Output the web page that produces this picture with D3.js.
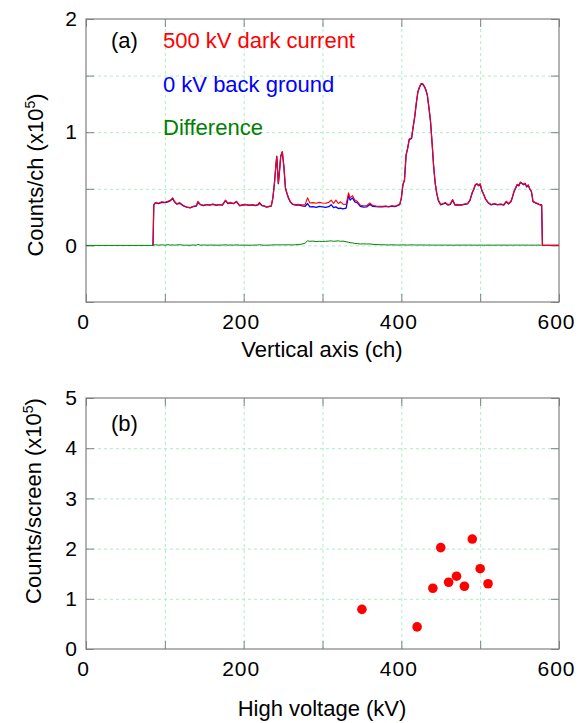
<!DOCTYPE html>
<html>
<head>
<meta charset="utf-8">
<script src="https://cdn.jsdelivr.net/npm/d3@7"></script>
<style>
  body { margin: 0; background: #fff; }
  svg { display: block; font-family: "Liberation Sans", Arial, sans-serif; }
  .tick line { stroke: #808080; }
  .grid line { stroke: #a8f0c4; stroke-dasharray: 3,3; }
  .num text { font-size: 21px; letter-spacing: 1px; fill: #000; }
</style>
</head>
<body>
<div id="chart"></div>
<script>

// (a) spectrum, counts per channel in units of 1e5
var channels = [
  0, 85, 86, 88, 92, 96, 100, 104, 107, 110,
  112, 115, 119, 122, 125, 128, 132, 136, 140, 142,
  145, 149, 153, 157, 161, 165, 169, 173, 177, 180,
  183, 187, 191, 195, 199, 203, 207, 211, 215, 218,
  220, 223, 226, 229, 232, 235, 237, 239, 241, 242,
  244, 245, 247, 249, 251, 253, 255, 257, 259, 262,
  266, 270, 274, 278, 281, 284, 288, 292, 296, 300,
  304, 308, 311, 314, 317, 320, 323, 326, 330, 333,
  335, 338, 341, 344, 348, 352, 356, 360, 364, 368,
  372, 376, 380, 384, 388, 392, 395, 398, 400, 402,
  404, 406, 408, 410, 413, 415, 417, 419, 421, 423,
  425, 427, 429, 431, 433, 435, 437, 439, 441, 443,
  445, 447, 450, 453, 456, 459, 462, 465, 468, 472,
  476, 480, 484, 487, 490, 492, 494, 496, 498, 500,
  502, 504, 507, 510, 514, 518, 522, 526, 530, 533,
  536, 539, 541, 543, 545, 547, 549, 551, 553, 555,
  557, 559, 561, 563, 565, 567, 570, 573, 576, 578,
  579, 600
];

var darkCounts = [
  null, 0, 0.360, 0.378, 0.372, 0.385, 0.380, 0.390, 0.398, 0.420,
  0.390, 0.368, 0.378, 0.360, 0.347, 0.340, 0.333, 0.345, 0.350, 0.390,
  0.362, 0.355, 0.362, 0.358, 0.365, 0.356, 0.362, 0.358, 0.400, 0.372,
  0.380, 0.370, 0.390, 0.352, 0.360, 0.362, 0.356, 0.360, 0.355, 0.360,
  0.380, 0.355, 0.350, 0.340, 0.345, 0.350, 0.420, 0.550, 0.720, 0.790,
  0.550, 0.620, 0.790, 0.830, 0.700, 0.510, 0.460, 0.420, 0.390, 0.365,
  0.360, 0.362, 0.358, 0.360, 0.420, 0.375, 0.378, 0.372, 0.380, 0.375,
  0.372, 0.380, 0.400, 0.370, 0.400, 0.370, 0.385, 0.365, 0.362, 0.465,
  0.420, 0.440, 0.400, 0.390, 0.355, 0.350, 0.350, 0.375, 0.352, 0.348,
  0.346, 0.345, 0.348, 0.344, 0.350, 0.346, 0.355, 0.365, 0.420, 0.540,
  0.580, 0.800, 0.860, 0.940, 0.950, 1.050, 1.140, 1.260, 1.360, 1.400,
  1.430, 1.430, 1.410, 1.380, 1.330, 1.220, 1.100, 0.910, 0.700, 0.550,
  0.460, 0.400, 0.362, 0.370, 0.378, 0.360, 0.365, 0.405, 0.360, 0.362,
  0.358, 0.365, 0.370, 0.400, 0.470, 0.500, 0.540, 0.545, 0.530, 0.545,
  0.490, 0.460, 0.410, 0.380, 0.362, 0.370, 0.362, 0.365, 0.360, 0.390,
  0.370, 0.390, 0.430, 0.480, 0.510, 0.540, 0.530, 0.560, 0.550, 0.540,
  0.550, 0.520, 0.535, 0.500, 0.480, 0.390, 0.380, 0.370, 0.360, 0.360,
  0, 0
];

var bgCounts = [
  null, 0, 0.358, 0.375, 0.370, 0.380, 0.378, 0.385, 0.395, 0.415,
  0.388, 0.365, 0.372, 0.356, 0.345, 0.338, 0.332, 0.342, 0.348, 0.380,
  0.360, 0.352, 0.360, 0.355, 0.362, 0.354, 0.360, 0.356, 0.395, 0.370,
  0.376, 0.368, 0.385, 0.350, 0.357, 0.360, 0.354, 0.358, 0.352, 0.357,
  0.372, 0.352, 0.348, 0.338, 0.343, 0.347, 0.415, 0.545, 0.715, 0.785,
  0.545, 0.615, 0.785, 0.825, 0.695, 0.505, 0.455, 0.415, 0.385, 0.362,
  0.356, 0.357, 0.350, 0.345, 0.370, 0.340, 0.342, 0.336, 0.344, 0.340,
  0.336, 0.342, 0.360, 0.334, 0.340, 0.326, 0.330, 0.322, 0.330, 0.440,
  0.400, 0.420, 0.385, 0.378, 0.345, 0.338, 0.340, 0.362, 0.345, 0.342,
  0.341, 0.340, 0.344, 0.340, 0.346, 0.342, 0.352, 0.360, 0.415, 0.535,
  0.575, 0.795, 0.855, 0.935, 0.945, 1.045, 1.135, 1.255, 1.355, 1.395,
  1.425, 1.425, 1.405, 1.375, 1.325, 1.215, 1.095, 0.905, 0.695, 0.545,
  0.455, 0.396, 0.358, 0.366, 0.374, 0.356, 0.362, 0.400, 0.357, 0.358,
  0.355, 0.362, 0.366, 0.395, 0.465, 0.496, 0.536, 0.542, 0.526, 0.540,
  0.486, 0.456, 0.406, 0.377, 0.358, 0.366, 0.359, 0.362, 0.357, 0.385,
  0.366, 0.386, 0.426, 0.476, 0.506, 0.536, 0.526, 0.556, 0.546, 0.536,
  0.546, 0.516, 0.531, 0.496, 0.476, 0.386, 0.376, 0.366, 0.357, 0.356,
  0, 0
];

var diffCounts = [
  0, 0, 0.003, 0.006, 0.002, 0.005, 0.002, 0.006, 0.003, 0.005,
  0.002, 0.004, 0.006, 0.003, 0.002, 0.002, 0.001, 0.004, 0.002, 0.008,
  0.002, 0.004, 0.002, 0.003, 0.003, 0.002, 0.002, 0.003, 0.005, 0.002,
  0.004, 0.002, 0.005, 0.002, 0.003, 0.002, 0.002, 0.002, 0.003, 0.003,
  0.006, 0.003, 0.002, 0.002, 0.002, 0.003, 0.005, 0.005, 0.005, 0.005,
  0.005, 0.005, 0.005, 0.005, 0.005, 0.005, 0.005, 0.005, 0.005, 0.004,
  0.006, 0.008, 0.012, 0.020, 0.040, 0.036, 0.038, 0.034, 0.036, 0.035,
  0.036, 0.038, 0.040, 0.036, 0.038, 0.040, 0.036, 0.038, 0.032, 0.028,
  0.024, 0.022, 0.018, 0.016, 0.012, 0.014, 0.012, 0.013, 0.009, 0.008,
  0.006, 0.006, 0.005, 0.004, 0.005, 0.004, 0.003, 0.004, 0.004, 0.005,
  0.004, 0.004, 0.003, 0.004, 0.005, 0.004, 0.004, 0.003, 0.004, 0.003,
  0.004, 0.003, 0.004, 0.003, 0.002, 0.004, 0.003, 0.002, 0.003, 0.002,
  0.003, 0.002, 0.003, 0.002, 0.003, 0.002, 0.003, 0.002, 0.002, 0.003,
  0.002, 0.003, 0.002, 0.003, 0.002, 0.003, 0.002, 0.002, 0.003, 0.002,
  0.003, 0.002, 0.002, 0.003, 0.002, 0.002, 0.003, 0.002, 0.003, 0.002,
  0.002, 0.003, 0.002, 0.002, 0.003, 0.002, 0.003, 0.002, 0.002, 0.003,
  0.002, 0.003, 0.002, 0.002, 0.003, 0.002, 0.002, 0.003, 0.002, 0.002,
  null, null
];

// (b) counts per screen vs high voltage
var hvKV = [350, 420, 440, 450, 460, 470, 480, 490, 500, 510];
var hvCounts = [0.79, 0.44, 1.21, 2.02, 1.33, 1.45, 1.25, 2.19, 1.60, 1.30];

var chTicks = [0, 100, 200, 300, 400, 500, 600];
var spectrumTicks = [-0.5, 0, 0.5, 1, 1.5, 2];
var screenTicks = [0, 1, 2, 3, 4, 5];

var svg = d3.select("#chart").append("svg")
    .attr("width", 582)
    .attr("height", 723);

var left = 86, right = 559;

function panel(top, bottom, yDomain, yTicks, yLabelFmt) {
  var g = svg.append("g");
  var x = d3.scaleLinear().domain([0, 600]).range([left, right]);
  var y = d3.scaleLinear().domain(yDomain).range([bottom, top]);
  var h = bottom - top, w = right - left;

  // grid
  g.append("g").attr("class", "grid")
    .attr("transform", "translate(0," + bottom + ")")
    .call(d3.axisBottom(x).tickValues(chTicks.slice(1, -1)).tickSize(-h).tickFormat(""))
    .call(function(s) { s.select(".domain").remove(); });
  g.append("g").attr("class", "grid")
    .attr("transform", "translate(" + left + ",0)")
    .call(d3.axisLeft(y).tickValues(yTicks.slice(1, -1)).tickSize(-w).tickFormat(""))
    .call(function(s) { s.select(".domain").remove(); });

  // inward ticks on all sides
  g.append("g").attr("class", "num")
    .attr("transform", "translate(0," + bottom + ")")
    .call(d3.axisBottom(x).tickValues(chTicks).tickSize(-8).tickPadding(12)
      .tickFormat(function(d) { return d % 200 === 0 ? d : ""; }))
    .call(function(s) {
      s.select(".domain").remove();
      s.selectAll("text").attr("font-size", null).attr("font-family", null).attr("dx", -3);
    });
  g.append("g")
    .attr("transform", "translate(0," + top + ")")
    .call(d3.axisTop(x).tickValues(chTicks).tickSize(-8).tickFormat(""))
    .call(function(s) { s.select(".domain").remove(); });
  g.append("g").attr("class", "num")
    .attr("transform", "translate(" + left + ",0)")
    .call(d3.axisLeft(y).tickValues(yTicks).tickSize(-8).tickPadding(8).tickFormat(yLabelFmt))
    .call(function(s) {
      s.select(".domain").remove();
      s.selectAll("text").attr("font-size", null).attr("font-family", null);
    });
  g.append("g")
    .attr("transform", "translate(" + right + ",0)")
    .call(d3.axisRight(y).tickValues(yTicks).tickSize(-8).tickFormat(""))
    .call(function(s) { s.select(".domain").remove(); });

  g.append("rect")
    .attr("x", left).attr("y", top)
    .attr("width", w).attr("height", h)
    .attr("fill", "none")
    .attr("stroke", "#808080")
    .attr("stroke-width", 1.2);

  return { g: g, x: x, y: y };
}

// ---- panel (a)
var pa = panel(19, 302, [-0.5, 2], spectrumTicks, function(d) {
  return Number.isInteger(d) ? d : "";
});

function drawSeries(values, color, width) {
  var line = d3.line()
    .defined(function(d, i) { return values[i] !== null; })
    .x(function(d, i) { return pa.x(channels[i]); })
    .y(function(d, i) { return pa.y(values[i]); });
  pa.g.append("path")
    .datum(values)
    .attr("fill", "none")
    .attr("stroke", color)
    .attr("stroke-width", width)
    .attr("stroke-linejoin", "round")
    .attr("d", line);
}
drawSeries(bgCounts, "#0000ff", 1.3);
drawSeries(darkCounts, "#ff0000", 1.1);
drawSeries(diffCounts, "#008000", 1);

var legend = [
  { text: "500 kV dark current", color: "#ff0000" },
  { text: "0 kV back ground", color: "#0000ff" },
  { text: "Difference", color: "#008000" }
];
pa.g.selectAll(".leg").data(legend).enter().append("text")
  .attr("x", 163)
  .attr("y", function(d, i) { return 48 + i * 43.5; })
  .attr("font-size", 22)
  .attr("fill", function(d) { return d.color; })
  .text(function(d) { return d.text; });

pa.g.append("text").attr("x", 111).attr("y", 48).attr("font-size", 22).text("(a)");

pa.g.append("text")
  .attr("x", 322).attr("y", 357)
  .attr("text-anchor", "middle").attr("font-size", 22)
  .text("Vertical axis (ch)");

var ta = pa.g.append("text")
  .attr("transform", "translate(43,175) rotate(-90)")
  .attr("text-anchor", "middle").attr("font-size", 22);
ta.append("tspan").text("Counts/ch (x10");
ta.append("tspan").attr("dy", -8).attr("font-size", 14).text("5");
ta.append("tspan").attr("dy", 8).text(")");

// ---- panel (b)
var pb = panel(398, 649, [0, 5], screenTicks, function(d) { return d; });

pb.g.selectAll("circle").data(hvKV).enter().append("circle")
  .attr("cx", function(d) { return pb.x(d); })
  .attr("cy", function(d, i) { return pb.y(hvCounts[i]); })
  .attr("r", 4.8)
  .attr("fill", "#ff0000");

pb.g.append("text").attr("x", 111).attr("y", 431).attr("font-size", 22).text("(b)");

pb.g.append("text")
  .attr("x", 322).attr("y", 716)
  .attr("text-anchor", "middle").attr("font-size", 22)
  .text("High voltage (kV)");

var tb = pb.g.append("text")
  .attr("transform", "translate(41,501) rotate(-90)")
  .attr("text-anchor", "middle").attr("font-size", 22);
tb.append("tspan").text("Counts/screen (x10");
tb.append("tspan").attr("dy", -8).attr("font-size", 14).text("5");
tb.append("tspan").attr("dy", 8).text(")");

</script>
</body>
</html>
